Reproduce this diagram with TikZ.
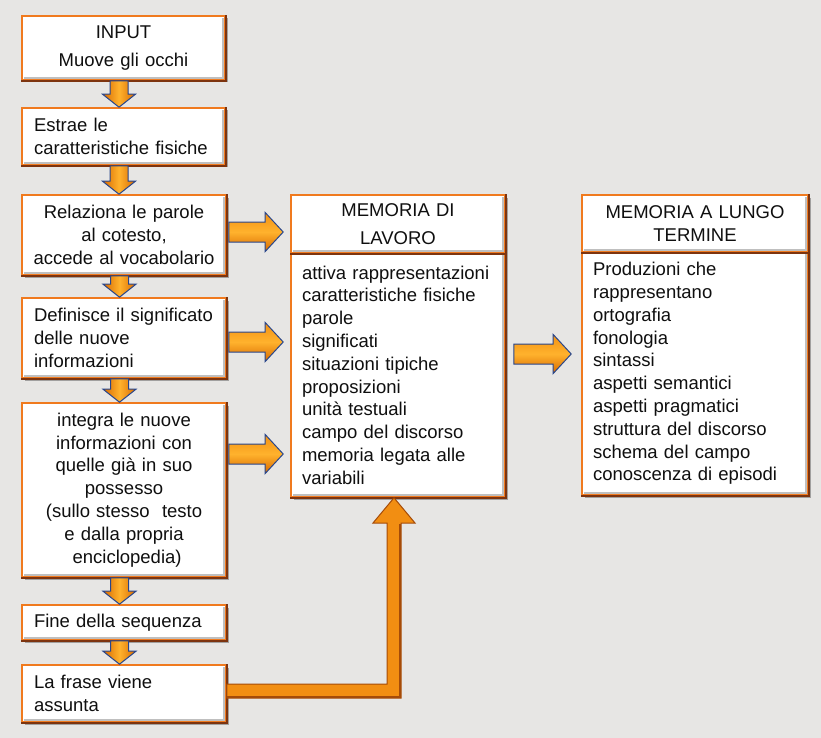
\documentclass[tikz,border=0pt]{standalone}
\usepackage{fontspec}
\setmainfont{Liberation Sans}
\usetikzlibrary{calc,shadows}
\definecolor{bg}{RGB}{231,230,228}
\definecolor{bord}{RGB}{240,122,30}
\definecolor{bordd}{RGB}{125,52,15}
\definecolor{txt}{RGB}{15,15,15}
\definecolor{arrA}{RGB}{215,105,0}
\definecolor{arrB}{RGB}{255,178,45}
\definecolor{arrC}{RGB}{242,145,20}
\definecolor{arrOut}{RGB}{40,70,140}
\definecolor{larr}{RGB}{242,142,18}
\definecolor{larrd}{RGB}{165,75,8}
\tikzset{
  box/.style={draw=bord, line width=1.6pt, fill=white, text=txt, inner xsep=12pt, inner ysep=0pt,
    font=\fontsize{18.5}{22.8}\selectfont,
    drop shadow={shadow xshift=2.5pt, shadow yshift=-2.5pt, opacity=0.3, fill=black}},
  darrow/.style={draw=arrOut, line width=1pt, left color=arrA, right color=arrA, middle color=arrB},
  rarrow/.style={draw=arrOut, line width=1pt, top color=arrC, bottom color=arrA, middle color=arrB},
  larrow/.style={draw=larrd, line width=1pt, fill=larr},
  darkedge/.style={draw=bordd, line width=2pt},
  bevel/.style={draw=black!25, line width=1.5pt}
}
\newcommand\darr[2]{%
  \path[darrow] let \p1=(#1.south), \p2=(#2.north) in
   (\x1-13.5pt,\y1) -- (\x1-13.5pt,\y2+13pt) -- (\x1-21pt,\y2+13pt) -- (\x1-4.5pt,\y2)
   -- (\x1+12pt,\y2+13pt) -- (\x1+4.5pt,\y2+13pt) -- (\x1+4.5pt,\y1) -- cycle;}
% from, to, y, start gap, end gap
\newcommand\rarr[5]{%
  \path[rarrow] let \p1=(#1.east), \p2=(#2.west) in
   (\x1+#4pt,#3pt+10pt) -- (\x2-#5pt-18pt,#3pt+10pt) -- (\x2-#5pt-18pt,#3pt+19.5pt) -- (\x2-#5pt,#3pt)
   -- (\x2-#5pt-18pt,#3pt-19.5pt) -- (\x2-#5pt-18pt,#3pt-10pt) -- (\x1+#4pt,#3pt-10pt) -- cycle;}
\newcommand\edges[1]{%
  \draw[bevel] ($(#1.north east)+(-3pt,-3pt)$) -- ($(#1.south east)+(-3pt,3pt)$) -- ($(#1.south west)+(3pt,3pt)$);
  \draw[darkedge] (#1.north east) -- (#1.south east) -- (#1.south west);}
\begin{document}
\begin{tikzpicture}[x=1pt,y=1pt]
\fill[bg] (0,0) rectangle (821,-738);
\useasboundingbox (0,0) rectangle (821,-738);

% left column
\node[box, minimum width=203pt, minimum height=64pt, text width=191pt, inner xsep=6pt, align=center] (input) at (123.5,-48)
  {INPUT\\[6pt]Muove gli occhi};
\node[box, minimum width=203pt, minimum height=57pt, text width=179pt, align=left] (estrae) at (123.5,-136.5)
  {Estrae le\\caratteristiche fisiche};
\node[box, minimum width=204pt, minimum height=80pt, text width=192pt, inner xsep=6pt, align=center] (relaz) at (124,-235)
  {Relaziona le parole\\al cotesto,\\accede al vocabolario};
\node[box, minimum width=204pt, minimum height=80pt, text width=180pt, align=left] (defin) at (124,-338)
  {Definisce il significato\\delle nuove\\informazioni};
\node[box, minimum width=204pt, minimum height=174pt, text width=192pt, inner xsep=6pt, align=center] (integra) at (124,-490)
  {integra le nuove\\informazioni con\\quelle già in suo\\possesso\\(sullo stesso\ \ testo\\e dalla propria\\\ enciclopedia)};
\node[box, minimum width=204pt, minimum height=35pt, text width=180pt, align=left] (fine) at (124,-622.5)
  {Fine della sequenza};
\node[box, minimum width=204pt, minimum height=57pt, text width=180pt, align=left] (frase) at (124,-693.5)
  {La frase viene\\assunta};

% memoria di lavoro
\node[box, minimum width=214pt, minimum height=58pt, text width=192pt, inner xsep=11pt, align=center] (memh) at (398,-224)
  {MEMORIA DI\\[5pt]LAVORO};
\node[box, minimum width=214pt, minimum height=244pt, text width=192pt, inner xsep=11pt, align=left] (memb) at (398,-375)
  {attiva rappresentazioni\\caratteristiche fisiche\\parole\\significati\\situazioni tipiche\\proposizioni\\unità testuali\\campo del discorso\\memoria legata alle\\variabili};

% memoria a lungo termine
\node[box, minimum width=226pt, minimum height=57pt, text width=204pt, inner xsep=11pt, align=center] (lungh) at (695,-223.5)
  {MEMORIA A LUNGO\\TERMINE};
\node[box, minimum width=226pt, minimum height=243pt, text width=204pt, inner xsep=11pt, align=left] (lungb) at (695,-373.5)
  {Produzioni che\\rappresentano\\ortografia\\fonologia\\sintassi\\aspetti semantici\\aspetti pragmatici\\struttura del discorso\\schema del campo\\conoscenza di episodi};

\foreach \n in {input,estrae,relaz,defin,integra,fine,frase,memh,memb,lungh,lungb} {\edges{\n}}

% down arrows
\darr{input}{estrae}
\darr{estrae}{relaz}
\darr{relaz}{defin}
\darr{defin}{integra}
\darr{integra}{fine}
\darr{fine}{frase}

% right arrows
\rarr{relaz}{memh}{-232}{2}{7}
\rarr{defin}{memb}{-342}{2}{7}
\rarr{integra}{memb}{-454}{2}{7}
\rarr{memb}{lungb}{-354}{8}{10}

% L arrow from frase to memoria di lavoro
\path[larrow] let \p1=(frase.east), \p2=(memb.south) in
  (\x1,-684pt) -- (\x2-11pt,-684pt) -- (\x2-11pt,-523pt) -- (\x2-25pt,-523pt) -- (\x2-4pt,\y2)
  -- (\x2+17pt,-523pt) -- (\x2+3pt,-523pt) -- (\x2+3pt,-698pt) -- (\x1,-698pt) -- cycle;
\draw[larrd, line width=2.5pt] let \p1=(frase.east), \p2=(memb.south) in
  (\x1,-697pt) -- (\x2+2pt,-697pt) -- (\x2+2pt,-524pt);
\end{tikzpicture}
\end{document}
